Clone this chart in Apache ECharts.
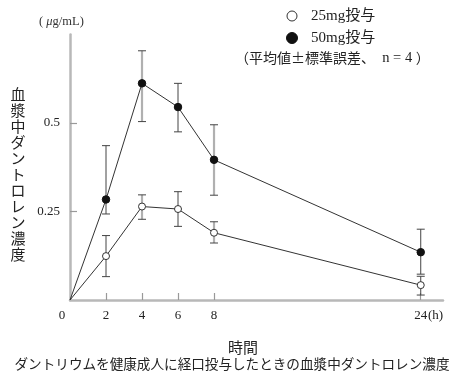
<!DOCTYPE html>
<html><head><meta charset="utf-8">
<script src="https://cdn.jsdelivr.net/npm/echarts@6/dist/echarts.min.js"></script>
<style>html,body{margin:0;background:#fff}#c{width:455px;height:385px}</style>
</head><body><div id="c"></div>
<script>
// ---- data ----
const hours   = [0, 2, 4, 6, 8, 24];
const mean25  = [0, 0.124, 0.264, 0.257, 0.190, 0.042];
const upper25 = [0, 0.182, 0.297, 0.306, 0.221, 0.067];
const lower25 = [0, 0.066, 0.228, 0.208, 0.161, 0.014];
const mean50  = [0, 0.284, 0.612, 0.545, 0.396, 0.135];
const upper50 = [0, 0.436, 0.704, 0.612, 0.495, 0.200];
const lower50 = [0, 0.243, 0.504, 0.475, 0.296, 0.073];
const xTickHours = [2, 4, 6, 8, 24];
const yTickValues = [0.25, 0.5];
// error bars drawn as thick grey strokes in the scan (1) or thin dark (0)
const greyBar = [0, 0, 1, 0, 1, 0];

// The time axis is compressed after 8 h (as in the original figure)
const SPLIT_H = 8, LATE_FACTOR = 0.7177;
function pos(h) { return h <= SPLIT_H ? h : SPLIT_H + (h - SPLIT_H) * LATE_FACTOR; }
function hourOf(p) { return p <= SPLIT_H ? p : SPLIT_H + (p - SPLIT_H) / LATE_FACTOR; }

const AXIS_GREY = '#b8b8b8';
const INK = '#333';
const SERIF = '"Liberation Serif","Noto Sans CJK JP",serif';
const SANS = '"Noto Sans CJK JP",sans-serif';

function lineData(mean) {
  return hours.map((h, i) => i === 0 ? { value: [pos(h), mean[i]], symbol: 'none' } : [pos(h), mean[i]]);
}
function errData(lo, hi) {
  const out = [];
  hours.forEach((h, i) => { if (i > 0) out.push([pos(h), lo[i], hi[i], greyBar[i]]); });
  return out;
}
function renderErr(params, api) {
  const x = api.value(0);
  const lo = api.coord([x, api.value(1)]);
  const hi = api.coord([x, api.value(2)]);
  const g = api.value(3) === 1;
  const stroke = g ? '#b0b0b0' : '#444';
  const lw = g ? 2.2 : 1;
  return {
    type: 'group',
    children: [
      { type: 'line', shape: { x1: lo[0], y1: lo[1], x2: hi[0], y2: hi[1] }, style: { stroke: stroke, lineWidth: lw } },
      { type: 'line', shape: { x1: hi[0] - 4, y1: hi[1], x2: hi[0] + 4, y2: hi[1] }, style: { stroke: '#444', lineWidth: 1 } },
      { type: 'line', shape: { x1: lo[0] - 4, y1: lo[1], x2: lo[0] + 4, y2: lo[1] }, style: { stroke: '#444', lineWidth: 1 } }
    ]
  };
}

const chart = echarts.init(document.getElementById('c'), null, { renderer: 'canvas' });
chart.setOption({
  animation: false,
  backgroundColor: '#fff',
  grid: { left: 70, top: 34.5, width: 373, height: 265.5, containLabel: false },
  xAxis: {
    type: 'value', min: 0, max: 20.72,
    axisLine: { show: true, lineStyle: { color: AXIS_GREY, width: 2.5 } },
    axisTick: { show: true, inside: true, length: 7, customValues: xTickHours.map(pos), lineStyle: { color: '#999', width: 1.2 } },
    axisLabel: {
      customValues: xTickHours.map(pos), margin: 9,
      formatter: v => String(Math.round(hourOf(v))),
      fontFamily: SERIF, fontSize: 13, color: '#222'
    },
    splitLine: { show: false }
  },
  yAxis: {
    type: 'value', min: 0, max: 0.75, interval: 0.25,
    axisLine: { show: true, lineStyle: { color: AXIS_GREY, width: 2.5 } },
    axisTick: { show: true, inside: true, length: 7, customValues: yTickValues, lineStyle: { color: '#999', width: 1.2 } },
    axisLabel: {
      customValues: yTickValues, margin: 10,
      formatter: v => String(v),
      fontFamily: SERIF, fontSize: 13, color: '#222'
    },
    splitLine: { show: false }
  },
  series: [
    { type: 'custom', name: 'err25', renderItem: renderErr, data: errData(lower25, upper25), z: 1, silent: true },
    { type: 'custom', name: 'err50', renderItem: renderErr, data: errData(lower50, upper50), z: 1, silent: true },
    {
      type: 'line', name: '25mg投与', data: lineData(mean25), z: 3,
      symbol: 'circle', symbolSize: 7, showAllSymbol: true,
      lineStyle: { color: INK, width: 1 },
      itemStyle: { color: '#fff', borderColor: INK, borderWidth: 1 }
    },
    {
      type: 'line', name: '50mg投与', data: lineData(mean50), z: 3,
      symbol: 'circle', symbolSize: 7.5, showAllSymbol: true,
      lineStyle: { color: INK, width: 1 },
      itemStyle: { color: '#111', borderColor: '#111', borderWidth: 1 }
    }
  ],
  graphic: [
    { type: 'text', left: 39, top: 15, style: { text: '( {i|μ}g/mL)', font: '12.5px ' + SERIF, fill: '#333',
      rich: { i: { fontStyle: 'italic', fontFamily: SERIF, fontSize: 12.5 } } } },
    { type: 'text', x: 18, y: 86, style: { text: '血\n漿\n中\nダ\nン\nト\nロ\nレ\nン\n濃\n度',
      fontFamily: SANS, fontSize: 15, lineHeight: 16, fill: '#222', align: 'center', verticalAlign: 'top' } },
    { type: 'text', x: 62, y: 316, style: { text: '0', fontFamily: SERIF, fontSize: 13, fill: '#222', align: 'center', verticalAlign: 'middle' } },
    { type: 'text', x: 428, y: 316, style: { text: '(h)', fontFamily: SERIF, fontSize: 13, fill: '#222', align: 'left', verticalAlign: 'middle' } },
    { type: 'circle', shape: { cx: 292, cy: 16, r: 5 }, style: { fill: '#fff', stroke: INK, lineWidth: 1 } },
    { type: 'text', x: 311, y: 16, style: { text: '25mg投与', fontFamily: SERIF, fontSize: 15, fill: '#222', align: 'left', verticalAlign: 'middle' } },
    { type: 'circle', shape: { cx: 292, cy: 38, r: 5.5 }, style: { fill: '#111', stroke: '#111', lineWidth: 1 } },
    { type: 'text', x: 311, y: 38, style: { text: '50mg投与', fontFamily: SERIF, fontSize: 15, fill: '#222', align: 'left', verticalAlign: 'middle' } },
    { type: 'text', x: 235, y: 58, style: {
      text: '{c|（平均値±標準誤差、}{s|  n = 4 }{c|）}',
      fill: '#222', align: 'left', verticalAlign: 'middle',
      rich: {
        c: { fontFamily: SANS, fontSize: 14, fill: '#222' },
        s: { fontFamily: SERIF, fontSize: 14.5, fill: '#222' }
      } } },
    { type: 'text', x: 243, y: 347, style: { text: '時間', fontFamily: SANS, fontSize: 15, fill: '#222', align: 'center', verticalAlign: 'middle' } },
    { type: 'text', x: 232, y: 364, style: { text: 'ダントリウムを健康成人に経口投与したときの血漿中ダントロレン濃度', fontFamily: SANS, fontSize: 13.6, fill: '#222', align: 'center', verticalAlign: 'middle' } }
  ]
});
</script>
</body></html>
